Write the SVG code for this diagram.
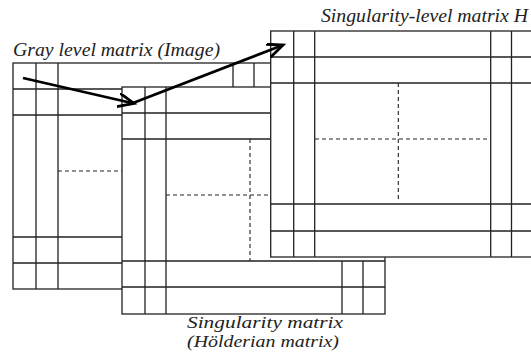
<svg xmlns="http://www.w3.org/2000/svg" width="531" height="356" viewBox="0 0 531 356">
<style>
.frame{fill:#fff;stroke:#222;stroke-width:1.3}
.ln{stroke:#222;stroke-width:1.3;fill:none}
.dash{stroke:#222;stroke-width:1.1;stroke-dasharray:4,3;fill:none}
.lbl{font-family:"Liberation Serif",serif;font-style:italic;font-size:18px;fill:#222}
.sm{font-size:16.5px}
.arr{stroke:#000;stroke-width:2.8;fill:none;marker-end:url(#head)}
</style>
<defs>
<marker id="head" markerUnits="userSpaceOnUse" markerWidth="20" markerHeight="18" refX="16" refY="7" orient="auto">
<path d="M0,0 L16,7 L0,14" fill="none" stroke="#000" stroke-width="2.8"/>
</marker>
</defs>
<rect width="531" height="356" fill="#fff"/>

<g id="gray">
<rect class="frame" x="13" y="63" width="262" height="226"/>
<path class="ln" d="M36,63V289M58,63V289M233,63V89M254,63V89M13,89H275M13,115H275M13,237H122M13,263H122"/>
<path class="dash" d="M58,171H122"/>
<text class="lbl" x="13" y="56" textLength="207" lengthAdjust="spacingAndGlyphs">Gray level matrix (Image)</text>
</g>

<g id="singularity">
<rect class="frame" x="122" y="87" width="263" height="227"/>
<path class="ln" d="M145,87V314M166,87V314M342,261V314M363,261V314M122,113H385M122,139H385M122,261H385M122,287H385"/>
<path class="dash" d="M250,139V261M166,195H272"/>
<text class="lbl sm" x="187" y="328" textLength="156" lengthAdjust="spacingAndGlyphs">Singularity matrix</text>
<text class="lbl sm" x="187" y="347" textLength="152" lengthAdjust="spacingAndGlyphs">(Hölderian matrix)</text>
</g>

<g id="hmatrix">
<rect class="frame" x="270.7" y="31" width="270" height="226"/>
<path class="ln" d="M293.7,31V257M314.7,31V257M490.7,31V257M511.5,31V257M270.7,57H531M270.7,83H531M270.7,204H531M270.7,231H531"/>
<path class="dash" d="M398.3,83V201M315,139H490"/>
<text class="lbl" x="321" y="22" textLength="207" lengthAdjust="spacingAndGlyphs">Singularity-level matrix H</text>
</g>

<g id="connectors">
<path class="arr" d="M23,78L134,103.5"/>
<path class="arr" d="M133,103L283,45"/>
</g>
</svg>
